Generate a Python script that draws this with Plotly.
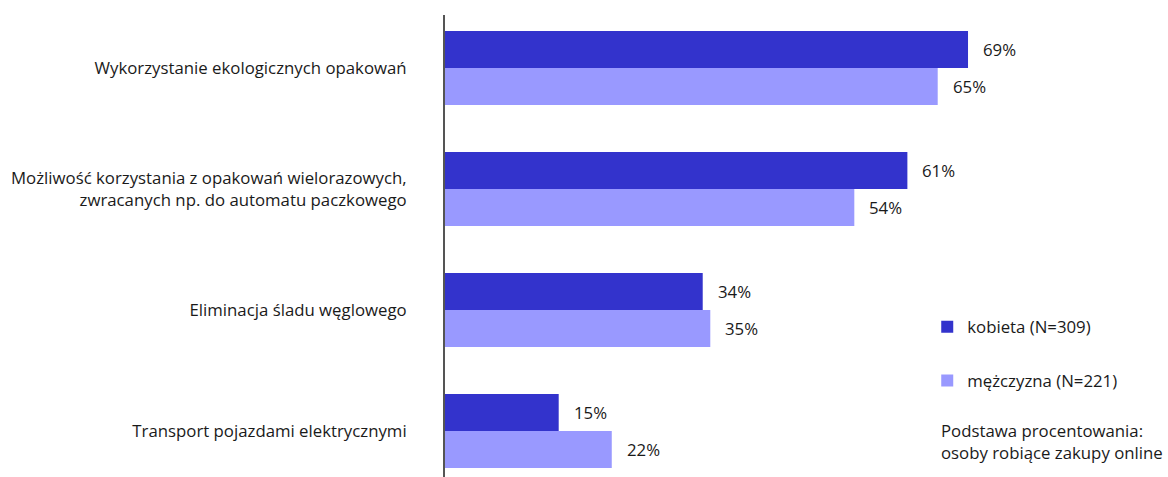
import plotly.graph_objects as go

categories = [
    "Wykorzystanie ekologicznych opakowań",
    "Możliwość korzystania z opakowań wielorazowych,<br>zwracanych np. do automatu paczkowego",
    "Eliminacja śladu węglowego",
    "Transport pojazdami elektrycznymi",
]
women = [69, 61, 34, 15]
men = [65, 54, 35, 22]
series_names = ["kobieta (N=309)", "mężczyzna (N=221)"]
note = "Podstawa procentowania:<br>osoby robiące zakupy online"

DARK = "#3333CC"
LIGHT = "#9999FF"
FONT = "Open Sans"
TEXT = "#1a1a1a"
SIZE = 16.8

fig = go.Figure()
fig.add_trace(go.Bar(y=categories, x=women, orientation="h", name=series_names[0],
                     marker=dict(color=DARK, line=dict(width=0)), legendgroup="a"))
fig.add_trace(go.Bar(y=categories, x=men, orientation="h", name=series_names[1],
                     marker=dict(color=LIGHT, line=dict(width=0)), legendgroup="b"))

annotations = []
for cat, v in zip(categories, women):
    annotations.append(dict(x=v, y=cat, text=f"{v}%", xanchor="left", xshift=13, yshift=18.5,
                            showarrow=False, font=dict(family=FONT, size=SIZE, color=TEXT)))
for cat, v in zip(categories, men):
    annotations.append(dict(x=v, y=cat, text=f"{v}%", xanchor="left", xshift=13, yshift=-18.5,
                            showarrow=False, font=dict(family=FONT, size=SIZE, color=TEXT)))
annotations.append(dict(xref="paper", yref="paper", x=0.6832, y=0.129, xanchor="left", yanchor="top",
                        text=note, align="left", showarrow=False,
                        font=dict(family=FONT, size=SIZE, color=TEXT)))

fig.update_layout(
    width=1168, height=477,
    margin=dict(l=445, r=0, t=15, b=0),
    paper_bgcolor="white", plot_bgcolor="white",
    barmode="group", bargap=0.39, bargroupgap=0,
    font=dict(family=FONT, size=SIZE, color=TEXT),
    xaxis=dict(range=[0, 723 / 7.58], showgrid=False, zeroline=False, showticklabels=False,
               showline=False),
    yaxis=dict(range=[3.38, -0.438], showgrid=False, zeroline=False, showline=True,
               linecolor="#555555", linewidth=2, ticks="", ticklabelstandoff=33,
               tickfont=dict(family=FONT, size=SIZE, color=TEXT)),
    legend=dict(x=0.667, y=0.363, xanchor="left", yanchor="top", tracegroupgap=29,
                traceorder="grouped", font=dict(family=FONT, size=SIZE, color=TEXT),
                bgcolor="rgba(0,0,0,0)"),
    annotations=annotations,
)

fig.write_html("out.html")
